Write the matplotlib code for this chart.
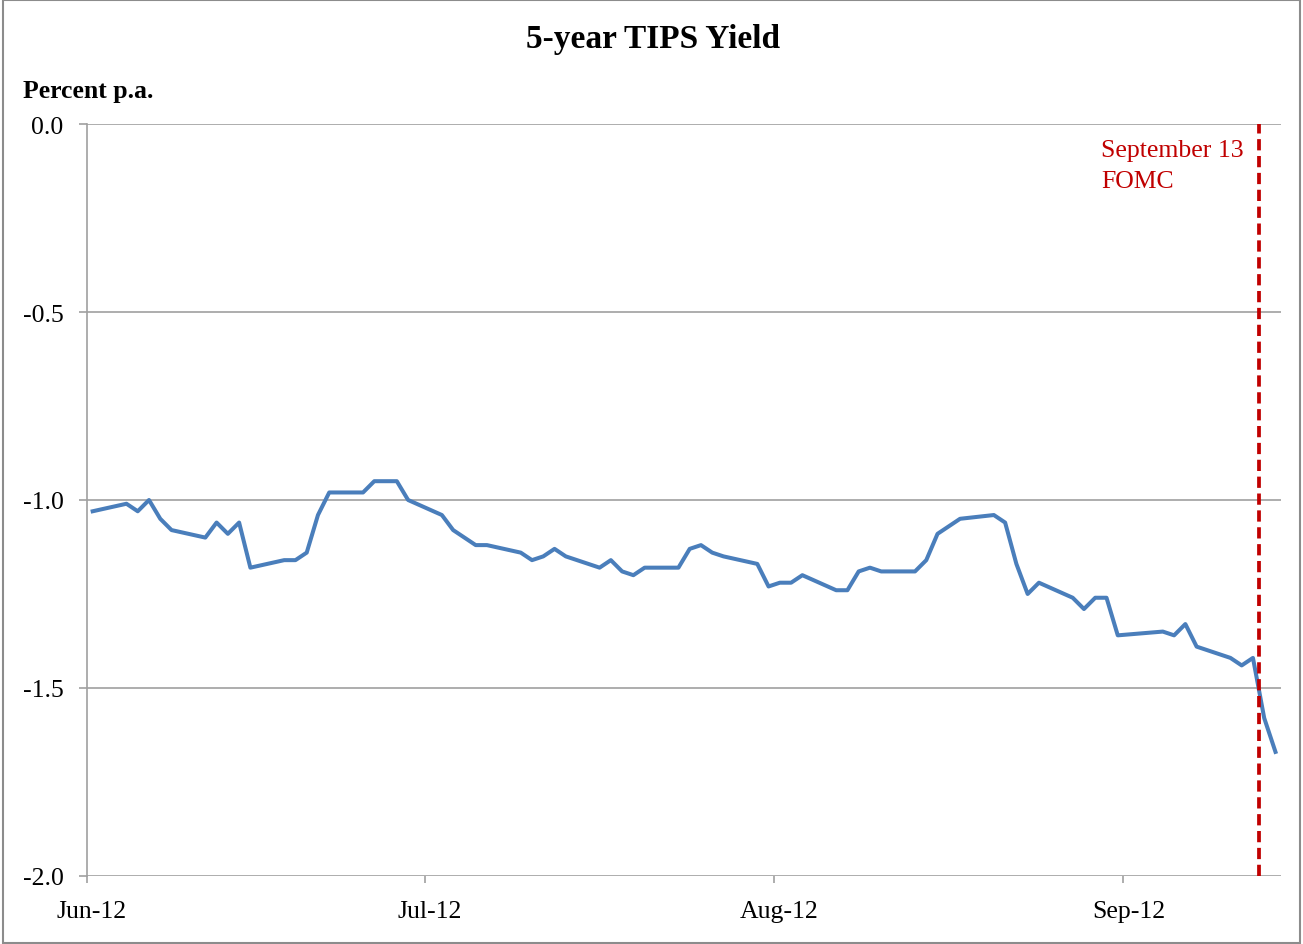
import datetime as dt
import matplotlib
matplotlib.use('Agg')
import matplotlib.pyplot as plt
import matplotlib.dates as mdates
from matplotlib.patches import Rectangle
from matplotlib.transforms import ScaledTranslation

# 5-year TIPS yield, business days Jun 1 - Sep 14, 2012
jun_days = [1, 4, 5, 6, 7, 8, 11, 12, 13, 14, 15, 18, 19, 20, 21, 22, 25, 26, 27, 28, 29]
jun_vals = [-1.03, -1.01, -1.03, -1.00, -1.05, -1.08, -1.10, -1.06, -1.09, -1.06, -1.18,
            -1.16, -1.16, -1.14, -1.04, -0.98, -0.98, -0.95, -0.95, -0.95, -1.00]
jul_days = [2, 3, 5, 6, 9, 10, 11, 12, 13, 16, 17, 18, 19, 20, 23, 24, 25, 26, 27, 30, 31]
jul_vals = [-1.04, -1.08, -1.12, -1.12, -1.14, -1.16, -1.15, -1.13, -1.15, -1.18, -1.16,
            -1.19, -1.20, -1.18, -1.18, -1.13, -1.12, -1.14, -1.15, -1.17, -1.23]
aug_days = [1, 2, 3, 6, 7, 8, 9, 10, 13, 14, 15, 16, 17, 20, 21, 22, 23, 24, 27, 28, 29, 30, 31]
aug_vals = [-1.22, -1.22, -1.20, -1.24, -1.24, -1.19, -1.18, -1.19, -1.19, -1.16, -1.09,
            -1.07, -1.05, -1.04, -1.06, -1.17, -1.25, -1.22, -1.26, -1.29, -1.26, -1.26, -1.36]
sep_days = [4, 5, 6, 7, 10, 11, 12, 13, 14]
sep_vals = [-1.35, -1.36, -1.33, -1.39, -1.42, -1.44, -1.42, -1.58, -1.67]

month_labels = ['Jun-12', 'Jul-12', 'Aug-12', 'Sep-12']
y_ticks = [-2.0, -1.5, -1.0, -0.5, 0.0]
fomc_date = dt.date(2012, 9, 13)


def main():
    plt.rcParams['font.family'] = 'Liberation Serif'

    dates, vals = [], []
    for m, days, v in [(6, jun_days, jun_vals), (7, jul_days, jul_vals),
                       (8, aug_days, aug_vals), (9, sep_days, sep_vals)]:
        dates += [dt.date(2012, m, d) for d in days]
        vals += v

    # points sit in the middle of each day slot, like an Excel date axis
    x = mdates.date2num(dates) + 0.5

    fig = plt.figure(figsize=(13.03, 9.45), dpi=100)
    ax = fig.add_axes([0.0668, 0.072, 0.9164, 0.7957])

    for yv in y_ticks:
        ax.axhline(yv, color='#a0a0a0', lw=1.2, zorder=1)

    ax.plot(x, vals, color='#4a7ebb', lw=2.9, zorder=3, solid_joinstyle='round')

    xf = mdates.date2num(fomc_date)
    ax.plot([xf, xf], [-2.0, 0.0], color='#c00000', lw=2.7, ls=(0, (3, 1.5)), zorder=4)
    ax.text(mdates.date2num(dt.date(2012, 8, 30)), -0.04, 'September 13\nFOMC',
            color='#c00000', fontsize=18.5, va='top', ha='left', linespacing=1.5)

    ax.set_ylim(-2.0, 0.0)
    ax.set_xlim(mdates.date2num(dt.date(2012, 6, 1)), mdates.date2num(dt.date(2012, 9, 15)))

    ax.set_yticks(y_ticks)
    ax.set_yticklabels(['%.1f' % v for v in y_ticks])
    month_starts = [mdates.date2num(dt.date(2012, m, 1)) for m in (6, 7, 8, 9)]
    ax.set_xticks(month_starts)
    ax.set_xticklabels(month_labels)

    for s in ['top', 'right', 'bottom']:
        ax.spines[s].set_visible(False)
    ax.spines['left'].set_color('#a0a0a0')
    ax.spines['left'].set_linewidth(1.2)

    ax.tick_params(axis='y', length=6, width=1.2, color='#a0a0a0', pad=11, labelsize=18.5)
    ax.tick_params(axis='x', length=5, width=1.2, color='#a0a0a0', pad=12, labelsize=18.5)
    for lab in ax.get_xticklabels():
        lab.set_transform(lab.get_transform() + ScaledTranslation(0.05, 0, fig.dpi_scale_trans))

    fig.text(0.501, 0.958, '5-year TIPS Yield', fontsize=24, fontweight='bold',
             ha='center', va='center')
    fig.text(0.0176, 0.903, 'Percent p.a.', fontsize=18.5, fontweight='bold',
             ha='left', va='center')

    fig.patches.append(Rectangle((3 / 1303, 1 / 945), 1297 / 1303, 943 / 945,
                                 transform=fig.transFigure, fill=False,
                                 edgecolor='#8c8c8c', lw=1.5))

    fig.savefig('out.png', dpi=100)


if __name__ == '__main__':
    main()
